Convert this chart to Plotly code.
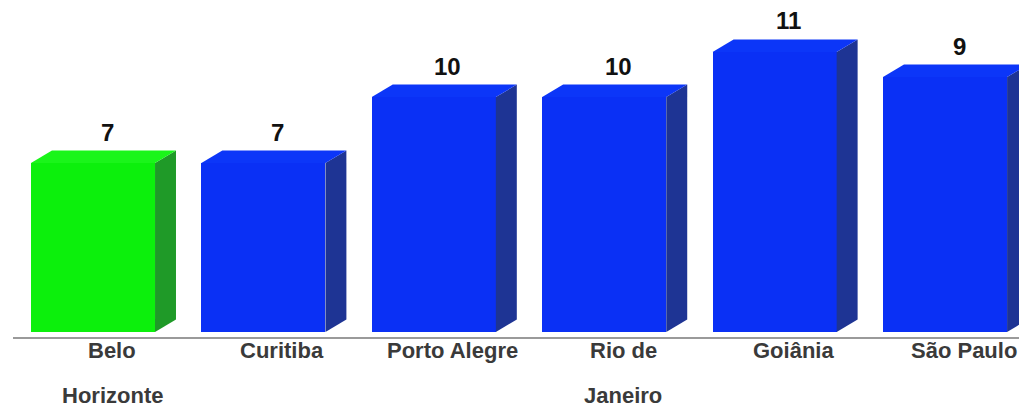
import plotly.graph_objects as go

# ---- data ----
categories = ["Belo<br>Horizonte", "Curitiba", "Porto Alegre", "Rio de<br>Janeiro", "Goiânia", "São Paulo"]
value_labels = ["7", "7", "10", "10", "11", "9"]
# bar heights as drawn in the picture (front face height, in label units)
bar_heights = [7.0, 7.0, 9.73, 9.73, 11.6, 10.56]
front_colors = ["#0CF00C", "#0A30F5", "#0A30F5", "#0A30F5", "#0A30F5", "#0A30F5"]
side_colors = ["#1F9A28", "#1E3494", "#1E3494", "#1E3494", "#1E3494", "#1E3494"]
top_colors = ["#1AF51A", "#0C36F8", "#0C36F8", "#0C36F8", "#0C36F8", "#0C36F8"]

# ---- geometry / style ----
BAR_W = 0.728      # front face width (category units)
DX = 0.123         # depth offset x (category units)
DY = 0.52          # depth offset y (value units)

x_idx = list(range(len(categories)))

fig = go.Figure()

# front faces
fig.add_trace(go.Bar(
    x=x_idx, y=bar_heights, width=BAR_W,
    marker=dict(color=front_colors, line=dict(width=0)),
    hoverinfo="skip", showlegend=False,
))

# side and top faces
for i, h in zip(x_idx, bar_heights):
    l = i - BAR_W / 2
    r = i + BAR_W / 2
    fig.add_trace(go.Scatter(
        x=[r, r + DX, r + DX, r, r],
        y=[0, DY, h + DY, h, 0],
        fill="toself", fillcolor=side_colors[i], mode="lines",
        line=dict(width=0, color=side_colors[i]),
        hoverinfo="skip", showlegend=False,
    ))
    fig.add_trace(go.Scatter(
        x=[l, l + DX, r + DX, r, l],
        y=[h, h + DY, h + DY, h, h],
        fill="toself", fillcolor=top_colors[i], mode="lines",
        line=dict(width=0, color=top_colors[i]),
        hoverinfo="skip", showlegend=False,
    ))

annotations = []
for i, (h, lab) in enumerate(zip(bar_heights, value_labels)):
    annotations.append(dict(
        x=i, y=h, xref="x", yref="y", text=f"<b>{lab}</b>", showarrow=False,
        xshift=14, yshift=31, yanchor="middle", xanchor="center",
        font=dict(family="Liberation Sans, Arial, sans-serif", size=24, color="#111111"),
    ))
for i, cat in enumerate(categories):
    for j, line in enumerate(cat.split("<br>")):
        annotations.append(dict(
            x=i, y=0, xref="x", yref="paper", text=f"<b>{line}</b>", showarrow=False,
            xshift=19, yshift=-13.5 - 44.5 * j, yanchor="middle", xanchor="center",
            font=dict(family="Liberation Sans, Arial, sans-serif", size=22, color="#3a3a3a"),
        ))

fig.update_layout(
    width=1019, height=413,
    margin=dict(l=13, r=0, t=0, b=76),
    paper_bgcolor="white", plot_bgcolor="white",
    xaxis=dict(range=[-0.4695, 5.434], showticklabels=False, ticks="", showgrid=False,
               zeroline=False, showline=True, linecolor="#9a9a9a", linewidth=2, fixedrange=True),
    yaxis=dict(range=[-0.207, 13.753], visible=False, showgrid=False, zeroline=False, fixedrange=True),
    annotations=annotations,
    bargap=0,
)

fig.write_html("out.html")
